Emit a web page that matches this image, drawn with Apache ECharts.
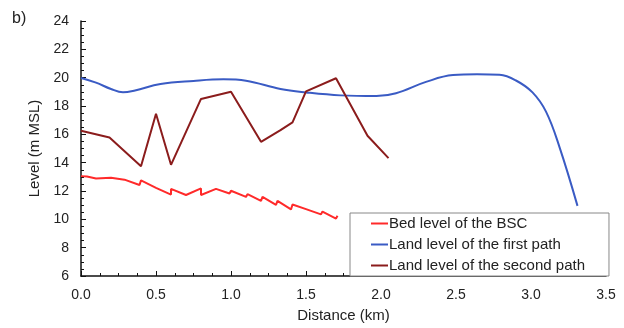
<!DOCTYPE html>
<html>
<head>
<meta charset="utf-8">
<script src="https://cdn.jsdelivr.net/npm/echarts@6/dist/echarts.min.js"></script>
<style>
  html, body { margin: 0; padding: 0; background: #fff; }
  #chart { width: 624px; height: 328px; }
</style>
</head>
<body>
<div id="chart"></div>
<script>
// distance (km), level (m MSL)
const bedBSC = [
  [0, 13.05], [0.04, 13.02], [0.1, 12.88], [0.2, 12.93], [0.29, 12.8], [0.3, 12.93],
  [0.39, 12.42], [0.4, 12.75], [0.5, 12.22], [0.6, 11.75], [0.6, 12.15], [0.7, 11.72],
  [0.8, 12.18], [0.8, 11.72], [0.9, 12.15], [0.99, 11.82], [1.0, 12.02], [1.1, 11.58],
  [1.11, 11.78], [1.2, 11.3], [1.21, 11.58], [1.3, 11.02], [1.31, 11.3], [1.4, 10.7],
  [1.41, 11.05], [1.5, 10.72], [1.6, 10.35], [1.61, 10.55], [1.7, 10.05], [1.71, 10.25]
]
const firstPath = [
  [0, 19.98], [0.1, 19.65], [0.2, 19.2], [0.28, 18.97], [0.36, 19.1], [0.53, 19.55],
  [0.75, 19.77], [0.95, 19.88], [1.1, 19.78], [1.33, 19.2], [1.5, 18.96], [1.73, 18.75],
  [1.97, 18.7], [2.1, 18.9], [2.3, 19.7], [2.48, 20.18], [2.64, 20.24], [2.79, 20.2],
  [2.9, 19.8], [3.01, 18.96], [3.1, 17.6], [3.19, 15.1], [3.31, 10.95]
]
const secondPath = [
  [0, 16.25], [0.19, 15.78], [0.4, 13.75], [0.5, 17.45], [0.6, 13.85], [0.8, 18.5],
  [1.0, 19.0], [1.2, 15.47], [1.33, 16.3], [1.41, 16.85], [1.5, 19.03], [1.7, 19.96],
  [1.91, 15.9], [2.05, 14.32]
]
const seriesNames = ['Bed level of the BSC', 'Land level of the first path', 'Land level of the second path']
const seriesColors = ['#ff2a2a', '#3a5bc4', '#8b1c1c']

const font = 'Arial, "Liberation Sans", sans-serif'
const chart = echarts.init(document.getElementById('chart'))

chart.setOption({
  animation: false,
  textStyle: { fontFamily: font, color: '#222' },
  graphic: [{
    type: 'text', left: 12, top: 11,
    style: { text: 'b)', font: '16px ' + font, fill: '#222' }
  }],
  grid: { left: 81, right: 18, top: 21, bottom: 48 },
  legend: {
    orient: 'vertical',
    left: 350, top: 213,
    padding: [3, 24, 3, 21],
    itemGap: 6,
    itemWidth: 17, itemHeight: 2,
    icon: 'rect',
    borderColor: '#888', borderWidth: 1,
    backgroundColor: '#fff',
    textStyle: { fontSize: 15, fontFamily: font, color: '#222', padding: [0, 0, 0, -4] },
    data: seriesNames
  },
  xAxis: {
    type: 'value', min: 0, max: 3.5, interval: 0.5,
    name: 'Distance (km)', nameLocation: 'middle', nameGap: 32,
    nameTextStyle: { fontSize: 15, color: '#222' },
    axisLine: { lineStyle: { color: '#111', width: 1.5 } },
    axisTick: { inside: true, length: 5, lineStyle: { color: '#111' } },
    minorTick: { show: true, splitNumber: 4, length: 3, lineStyle: { color: '#111' } },
    axisLabel: { fontSize: 14, color: '#222', margin: 12, formatter: v => v.toFixed(1) },
    splitLine: { show: false }
  },
  yAxis: {
    type: 'value', min: 6, max: 24, interval: 2,
    name: 'Level (m MSL)', nameLocation: 'middle', nameGap: 38,
    nameTextStyle: { fontSize: 15, color: '#222' },
    axisLine: { show: true, lineStyle: { color: '#111', width: 1.5 } },
    axisTick: { show: true, inside: true, length: 5, lineStyle: { color: '#111' } },
    minorTick: { show: true, splitNumber: 4, length: 3, lineStyle: { color: '#111' } },
    axisLabel: { fontSize: 14, color: '#222', margin: 12 },
    splitLine: { show: false }
  },
  series: [
    { name: seriesNames[0], type: 'line', data: bedBSC, showSymbol: false,
      lineStyle: { color: seriesColors[0], width: 2 }, itemStyle: { color: seriesColors[0] } },
    { name: seriesNames[1], type: 'line', data: firstPath, showSymbol: false, smooth: 0.4,
      lineStyle: { color: seriesColors[1], width: 2 }, itemStyle: { color: seriesColors[1] } },
    { name: seriesNames[2], type: 'line', data: secondPath, showSymbol: false,
      lineStyle: { color: seriesColors[2], width: 2 }, itemStyle: { color: seriesColors[2] } }
  ]
})
</script>
</body>
</html>
